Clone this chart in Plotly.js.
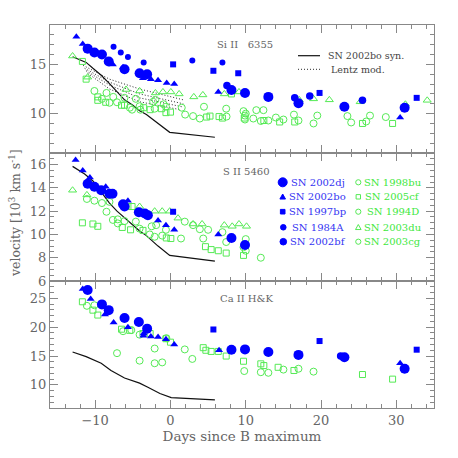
<!DOCTYPE html>
<html><head><meta charset="utf-8">
<script src="https://cdn.plot.ly/plotly-3.0.1.min.js"></script>
<style>html,body{margin:0;padding:0;background:#fff}#plot{width:458px;height:458px}</style>
</head><body><div id="plot"></div>
<script>
// ---------- Si II 6355 panel ----------
const si_02dj_x=[-11.0,-10.1,-9.1,-8.2,-6.1,-4.1,-3.1,8.1,9.9,13.0,17.0,23.1,31.1];
const si_02dj_y=[16.6,16.2,16.0,15.3,14.5,14.1,14.0,12.4,12.1,11.7,11.05,10.7,10.6];
const si_02bo_x=[-12.5,-11.65,-7.65,-6.3,-3.65,-2.6,-1.65,-0.5,0.5,6.35,30.5];
const si_02bo_y=[17.8,17.07,15.0,14.7,13.6,13.5,13.4,13.1,13.0,12.2,9.6];
const si_97bp_x=[0.35,5.7,9.0,19.8,32.7];
const si_97bp_y=[15.0,14.35,14.1,12.1,11.6];
const si_84A_x=[-7.56,-6.6,-5.65,-3.56,2.9,6.9];
const si_84A_y=[16.8,16.2,15.75,15.2,15.4,15.2];
const si_02bf_x=[7.5,16.5,18.5,25.5];
const si_02bf_y=[12.85,11.6,11.8,11.35];
const si_98bu_x=[-10.1,-8.5,-7.6,-6.1,-4.6,-2.0,-2.3,-0.9,1.5,4.45,7.4,9.7,11.4,12.35,16.4,19.5,23.5,26.5,28.6];
const si_98bu_y=[12.3,12.1,11.7,11.6,11.5,11.4,11.2,10.95,10.6,10.7,10.5,10.25,10.35,10.35,9.9,9.8,9.75,9.8,9.65];
const si_05cf_x=[-11.7,-11.2,-9.65,-9.65,-8.6,-6.5,-6.1,-3.56,-2.7,-1.2,-0.6,0.0,4.8,5.25,6.45,6.9,8.1,9.8,12.4,14.5,16.5,25.5,29.5];
const si_05cf_y=[15.3,13.5,11.7,11.35,11.15,10.85,10.85,10.6,10.4,10.5,10.1,10.15,9.65,9.75,9.7,9.55,12.0,9.55,9.3,9.15,9.15,9.0,9.0];
const si_94D_x=[-9.1,-8.1,-7.1,-5.4,-5.1,-4.1,-4.0,-2.1,-0.6,1.95,3.0,3.9,7.45,9.9,10.0];
const si_94D_y=[11.5,11.1,11.15,10.6,10.4,10.75,10.4,10.5,10.7,9.9,9.75,9.5,9.7,9.8,10.0];
const si_03du_x=[-13.0,-11.0,-5.9,-4.1,-2.0,-1.0,0.05,1.15,3.1,4.3,7.15,9.1,17.1,19.0,21.1,25.2,31.2,34.1];
const si_03du_y=[15.85,13.7,12.45,12.3,12.1,12.2,12.2,12.0,11.7,11.9,12.0,12.2,11.4,11.5,11.4,11.2,10.95,11.35];
const si_03cg_x=[9.9,11.0,12.0,13.0,14.0,15.0,17.0,19.0,24.0,26.0];
const si_03cg_y=[9.4,9.5,9.25,9.3,9.6,9.4,9.3,9.0,9.1,9.2];
const si_syn_x=[-13.0,-11.2,-10.3,-9.2,-8.1,-7.1,-6.1,-5.0,-4.1,-3.2,-1.65,-0.1,5.9];
const si_syn_y=[15.78,15.2,14.6,13.9,13.05,12.2,11.4,10.85,10.3,9.9,9.0,8.1,7.6];
const lentz1_x=[-11.6,-8.1,-4.1,1.7], lentz1_y=[14.9,13.5,12.5,11.4];
const lentz2_x=[-11.4,-8.1,-4.1,1.7], lentz2_y=[14.6,13.2,12.0,11.0];
const lentz3_x=[-11.2,-8.1,-4.1,1.5], lentz3_y=[14.35,12.9,11.6,10.7];
const lentz4_x=[-11.0,-8.1,-4.1,1.3], lentz4_y=[14.1,12.5,11.2,10.4];

// ---------- S II 5460 panel ----------
const s_02dj_x=[-11.0,-10.1,-9.2,-8.1,-7.7,-6.3,-6.1,-4.2,-3.4,-3.0,8.1,9.9];
const s_02dj_y=[14.35,14.1,13.8,13.5,13.5,12.6,12.4,11.9,11.8,11.65,9.7,9.1];
const s_02bo_x=[-12.6,-11.65,-10.7,-8.6,-5.65,-1.65,-0.6,0.5,6.35];
const s_02bo_y=[16.4,15.5,14.9,14.1,12.9,11.2,10.8,10.4,10.0];
const s_97bp_x=[0.35], s_97bp_y=[11.95];
const s_98bu_x=[-11.1,-10.1,-9.1,-8.1,-4.6,-2.5,-1.9,1.9,3.0,5.0,6.9,10.0];
const s_98bu_y=[13.05,12.9,12.7,12.8,11.1,10.7,10.8,11.1,10.8,10.4,10.2,9.6];
const s_05cf_x=[-11.7,-10.3,-9.65,-6.4,-5.65,-5.1,-5.3,-3.65,-0.55,0.05,4.65,5.4,6.35,7.4,9.7];
const s_05cf_y=[11.0,10.9,10.7,10.6,12.4,12.4,10.4,10.35,9.7,9.65,8.95,8.7,8.6,8.4,8.2];
const s_94D_x=[-8.5,-7.65,-7.0,-7.0,-6.1,-4.1,-2.75,-2.1,-1.1,-0.6,1.4,3.9];
const s_94D_y=[11.95,11.25,11.3,10.95,11.15,10.5,10.0,9.8,9.9,10.4,9.65,10.45];
const s_03du_x=[-13.0,-11.1,-4.1,-2.1,-1.1,-0.1,1.0,3.0,4.2,7.15,8.2,9.1,10.1];
const s_03du_y=[13.8,13.4,12.4,12.0,12.0,12.0,11.4,10.9,10.9,10.8,10.7,10.9,10.7];
const s_03cg_x=[4.35,7.4,9.7,10.0,12.0];
const s_03cg_y=[9.65,9.35,8.9,8.6,8.0];
const s_syn_x=[-13.0,-11.4,-10.3,-9.2,-8.1,-7.1,-6.1,-5.0,-4.1,-3.2,-1.65,-0.1,5.9];
const s_syn_y=[15.85,15.2,14.6,13.7,12.7,12.0,11.45,10.8,10.3,9.9,9.0,8.2,7.7];

// ---------- Ca II H&K panel ----------
const ca_02dj_x=[-11.0,-9.1,-8.2,-6.1,-4.2,-3.1,8.1,9.9,13.0,17.0,23.1,31.1];
const ca_02dj_y=[26.45,23.95,22.95,21.6,20.9,19.75,16.1,16.15,15.7,15.2,14.8,12.8];
const ca_02bo_x=[-11.65,-10.6,-8.7,-7.55,-5.65,-3.56,-3.6,-2.6,-1.65,-0.6,0.5,6.45,30.5];
const ca_02bo_y=[26.6,24.9,22.2,20.8,20.0,18.9,18.5,18.4,18.3,17.9,17.0,16.0,13.75];
const ca_97bp_x=[5.7,19.8,32.7], ca_97bp_y=[19.6,17.6,16.1];
const ca_02bf_x=[22.6], ca_02bf_y=[15.0];
const ca_98bu_x=[-11.1,-10.1,-6.3,-5.2,-4.1,-0.55,1.9];
const ca_98bu_y=[23.7,23.8,19.3,19.5,18.7,18.1,16.15];
const ca_05cf_x=[-11.7,-10.3,-9.65,-6.5,-5.4,-3.65,-2.7,-0.6,0.0,4.35,4.7,5.4,6.35,7.4,9.7,12.0,12.4,14.3,16.4,25.5,29.5];
const ca_05cf_y=[24.4,22.95,22.1,19.65,19.45,18.9,18.9,18.0,17.4,16.45,16.0,15.8,15.8,15.0,14.1,13.65,13.35,13.05,12.5,11.8,11.0];
const ca_94D_x=[-7.1,-4.1,-2.1,-2.1,-1.1,2.9];
const ca_94D_y=[15.5,14.2,16.3,13.75,13.9,14.5];
const ca_03cg_x=[9.8,12.0,13.0,15.0,17.0,19.0];
const ca_03cg_y=[12.4,12.2,12.1,12.65,12.8,12.3];
const ca_syn_x=[-13.0,-11.2,-9.2,-7.9,-6.1,-4.1,-3.0,-1.4,0.1,5.9];
const ca_syn_y=[15.7,14.9,13.75,12.5,11.2,10.3,9.6,8.5,7.8,7.4];

// ---------- labels ----------
const panelLabels=["Si II&nbsp;&nbsp;&nbsp;6355","S II 5460","Ca II H&amp;K"];
const blueNames=["SN 2002dj","SN 2002bo","SN 1997bp","SN 1984A","SN 2002bf"];
const greenNames=["SN 1998bu","SN 2005cf","SN 1994D","SN 2003du","SN 2003cg"];
const lineNames=["SN 2002bo syn.","Lentz mod."];
const xTitle="Days since B maximum";
const yTitle="velocity [10<sup>3</sup> km s<sup>-1</sup>]";

const BLUE="#0000ff", GREEN="#55ea55";
const sty={
 dj:{symbol:"circle",size:10,color:BLUE},
 bo:{symbol:"triangle-up",size:7,color:BLUE},
 bp:{symbol:"square",size:6,color:BLUE},
 a84:{symbol:"circle",size:6,color:BLUE},
 bf:{symbol:"circle",size:7.5,color:BLUE},
 bu:{symbol:"circle-open",size:7,color:GREEN,line:{width:1,color:GREEN}},
 cf:{symbol:"square-open",size:6,color:GREEN,line:{width:1,color:GREEN}},
 d94:{symbol:"circle-open",size:7,color:GREEN,line:{width:1,color:GREEN}},
 du:{symbol:"triangle-up-open",size:7,color:GREEN,line:{width:1,color:GREEN}},
 cg:{symbol:"circle-open",size:7,color:GREEN,line:{width:1,color:GREEN}}
};
const traces=[];
function pts(x,y,s,ax,ay){traces.push({x:x,y:y,xaxis:ax,yaxis:ay,type:"scatter",mode:"markers",marker:sty[s],showlegend:false,hoverinfo:"skip",cliponaxis:false});}
function ln(x,y,dash,ax,ay){traces.push({x:x,y:y,xaxis:ax,yaxis:ay,type:"scatter",mode:"lines",line:{color:"#111",width:dash==="solid"?1.2:0.9,dash:dash==="solid"?"solid":"1px,2px"},showlegend:false,hoverinfo:"skip"});}

// top panel (x3,y3)
ln(si_syn_x,si_syn_y,"solid","x3","y3");
ln(lentz1_x,lentz1_y,"dot","x3","y3");ln(lentz2_x,lentz2_y,"dot","x3","y3");
ln(lentz3_x,lentz3_y,"dot","x3","y3");ln(lentz4_x,lentz4_y,"dot","x3","y3");
pts(si_98bu_x,si_98bu_y,"bu","x3","y3");pts(si_05cf_x,si_05cf_y,"cf","x3","y3");
pts(si_94D_x,si_94D_y,"d94","x3","y3");pts(si_03du_x,si_03du_y,"du","x3","y3");
pts(si_03cg_x,si_03cg_y,"cg","x3","y3");
pts(si_02dj_x,si_02dj_y,"dj","x3","y3");pts(si_02bo_x,si_02bo_y,"bo","x3","y3");
pts(si_97bp_x,si_97bp_y,"bp","x3","y3");pts(si_84A_x,si_84A_y,"a84","x3","y3");
pts(si_02bf_x,si_02bf_y,"bf","x3","y3");
// middle panel (x2,y2)
ln(s_syn_x,s_syn_y,"solid","x2","y2");
pts(s_98bu_x,s_98bu_y,"bu","x2","y2");pts(s_05cf_x,s_05cf_y,"cf","x2","y2");
pts(s_94D_x,s_94D_y,"d94","x2","y2");pts(s_03du_x,s_03du_y,"du","x2","y2");
pts(s_03cg_x,s_03cg_y,"cg","x2","y2");
pts(s_02dj_x,s_02dj_y,"dj","x2","y2");pts(s_02bo_x,s_02bo_y,"bo","x2","y2");
pts(s_97bp_x,s_97bp_y,"bp","x2","y2");
// bottom panel (x,y)
ln(ca_syn_x,ca_syn_y,"solid","x","y");
pts(ca_98bu_x,ca_98bu_y,"bu","x","y");pts(ca_05cf_x,ca_05cf_y,"cf","x","y");
pts(ca_94D_x,ca_94D_y,"d94","x","y");pts(ca_03cg_x,ca_03cg_y,"cg","x","y");
pts(ca_02dj_x,ca_02dj_y,"dj","x","y");pts(ca_02bo_x,ca_02bo_y,"bo","x","y");
pts(ca_97bp_x,ca_97bp_y,"bp","x","y");pts(ca_02bf_x,ca_02bf_y,"bf","x","y");

const FONT="DejaVu Serif", TXT="#666", AX="#888";
function xax(anchor,labels){const a={anchor:anchor,range:[-16,35],dtick:10,tick0:0,ticks:"inside",ticklen:8,tickcolor:AX,
 showline:true,linecolor:AX,linewidth:1,mirror:"ticks",showgrid:false,zeroline:false,showticklabels:labels,
 tickfont:{family:FONT,size:13,color:TXT},minor:{dtick:2,ticks:"inside",ticklen:4,tickcolor:AX,showgrid:false}};
 if(anchor!=="y")a.matches="x"; return a;}
function yax(dom,range,dt,mdt){return {domain:dom,range:range,dtick:dt,tick0:0,ticks:"inside",ticklen:8,tickcolor:AX,
 showline:true,linecolor:AX,linewidth:1,mirror:"ticks",showgrid:false,zeroline:false,
 tickfont:{family:FONT,size:13,color:TXT},minor:{dtick:mdt,ticks:"inside",ticklen:4,tickcolor:AX,showgrid:false}};}

const H=383, W=384;
function px(p){return (p-50)/W;} function py(p){return (408-p)/H;}
function ann(text,x,y,anchor,size,color){return {text:text,x:px(x),y:py(y),xref:"paper",yref:"paper",xanchor:anchor,yanchor:"middle",showarrow:false,font:{family:FONT,size:size,color:color}};}
const annotations=[
 ann(panelLabels[0],245,44,"center",10,TXT),
 ann(panelLabels[1],246,171,"center",10,TXT),
 ann(panelLabels[2],246,298,"center",10,TXT),
 ann(lineNames[0],326,55.7,"left",9.5,"#444"),
 ann(lineNames[1],329,69.3,"left",9.5,"#444"),
 {text:yTitle,x:px(15),y:py(213),xref:"paper",yref:"paper",xanchor:"center",yanchor:"middle",textangle:-90,showarrow:false,font:{family:FONT,size:12.5,color:TXT}}
];
const legY=[182.3,196.8,211.7,227.3,241.7];
blueNames.forEach((n,i)=>annotations.push(ann(n,317.5,legY[i],"center",10,"#3434f2")));
greenNames.forEach((n,i)=>annotations.push(ann(n,392.5,legY[i],"center",10,"#40e840")));

const shapes=[
 {type:"line",xref:"paper",yref:"paper",x0:px(298),x1:px(320),y0:py(55.7),y1:py(55.7),line:{color:"#111",width:1.2}},
 {type:"line",xref:"paper",yref:"paper",x0:px(298),x1:px(320),y0:py(69.3),y1:py(69.3),line:{color:"#111",width:0.9,dash:"1px,2px"}}
];
function circ(cx,cy,r,fill,col){shapes.push({type:"circle",xref:"paper",yref:"paper",xsizemode:"pixel",ysizemode:"pixel",xanchor:px(cx),yanchor:py(cy),x0:-r,x1:r,y0:-r,y1:r,fillcolor:fill,line:{color:col,width:1}});}
function sq(cx,cy,r,fill,col){shapes.push({type:"rect",xref:"paper",yref:"paper",xsizemode:"pixel",ysizemode:"pixel",xanchor:px(cx),yanchor:py(cy),x0:-r,x1:r,y0:-r,y1:r,fillcolor:fill,line:{color:col,width:1}});}
function tri(cx,cy,r,fill,col){shapes.push({type:"path",xref:"paper",yref:"paper",xsizemode:"pixel",ysizemode:"pixel",xanchor:px(cx),yanchor:py(cy),path:`M ${-r} ${-r*0.8} L ${r} ${-r*0.8} L 0 ${r} Z`,fillcolor:fill,line:{color:col,width:1}});}
circ(282.7,legY[0],4.5,BLUE,BLUE); tri(282.7,legY[1],2.8,BLUE,BLUE); sq(282.7,legY[2],2.3,BLUE,BLUE);
circ(283.3,legY[3],2.8,BLUE,BLUE); circ(283.3,legY[4],3.3,BLUE,BLUE);
circ(358.3,legY[0],2.6,"rgba(0,0,0,0)",GREEN); sq(358.3,legY[1],2.2,"rgba(0,0,0,0)",GREEN);
circ(358.3,legY[2],2.6,"rgba(0,0,0,0)",GREEN); tri(358.3,legY[3],2.8,"rgba(0,0,0,0)",GREEN);
circ(358.3,legY[4],2.6,"rgba(0,0,0,0)",GREEN);

const layout={width:458,height:458,margin:{l:50,r:24,t:25,b:50},paper_bgcolor:"#fff",plot_bgcolor:"#fff",
 showlegend:false,font:{family:FONT,color:TXT},
 xaxis:Object.assign(xax("y",true),{title:{text:xTitle,font:{family:FONT,size:13.5,color:TXT},standoff:4}}),
 xaxis2:xax("y2",false), xaxis3:xax("y3",false),
 yaxis:yax([0,0.3316],[6,28],5,1),
 yaxis2:yax([0.3316,0.6658],[6,17],2,0.5),
 yaxis3:yax([0.6658,1],[6,19],5,1),
 annotations:annotations, shapes:shapes};
Plotly.newPlot("plot",traces,layout,{staticPlot:true,displayModeBar:false});
</script></body></html>
